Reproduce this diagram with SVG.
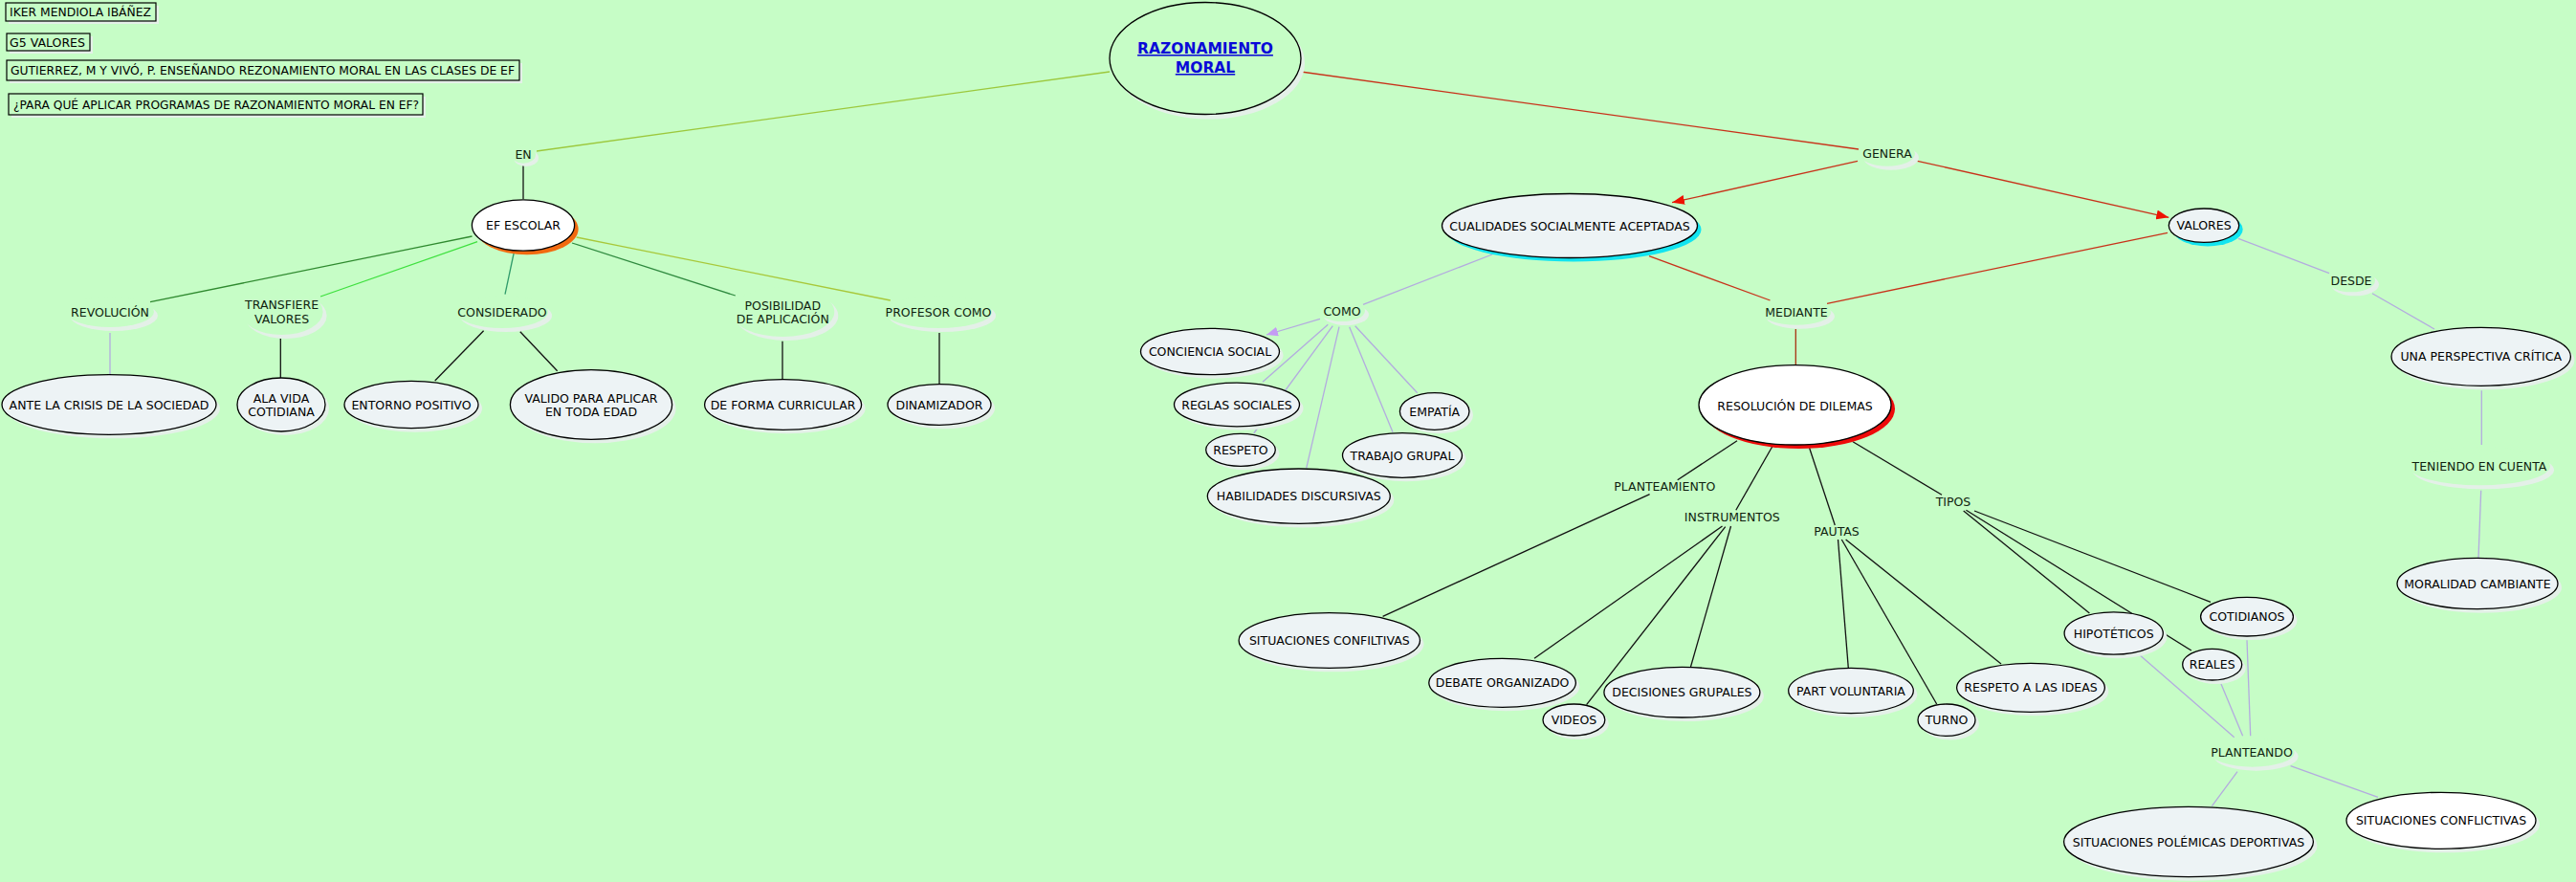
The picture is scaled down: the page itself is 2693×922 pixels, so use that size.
<svg xmlns="http://www.w3.org/2000/svg" width="2693" height="922" viewBox="0 0 2693 922">
<style>
text{font-family:"DejaVu Sans",Verdana,sans-serif;font-size:12.5px;fill:#000;text-anchor:middle}
.lt{fill:#0f1f0f}
.bt{text-anchor:start}
.n{fill:#edf3f5;stroke:#000;stroke-width:1.3}
.w{fill:#fff;stroke:#000;stroke-width:1.3}
.sh{fill:#e4f0e8}
.lb{fill:#c6fdc6}
.box{fill:#c6fdc6;stroke:#000;stroke-width:1.2}
.c line{stroke-width:1.3;fill:none}
.k{stroke:#111}
.r{stroke:#c8321a;stroke-width:1.6}
.v{stroke:#b3abdf}
.title{font-size:15.5px;font-weight:bold;fill:#0a0ad8;text-decoration:underline}
</style>
<defs>
<marker id="ar" viewBox="0 0 13 10" refX="13" refY="5" markerWidth="13" markerHeight="10" markerUnits="userSpaceOnUse" orient="auto"><path d="M0,0 L13,5 L0,10 z" fill="#ee1100"/></marker>
<marker id="al" viewBox="0 0 12 10" refX="12" refY="5" markerWidth="12" markerHeight="10" markerUnits="userSpaceOnUse" orient="auto"><path d="M0,0 L12,5 L0,10 z" fill="#c49cf4"/></marker>
</defs>
<rect width="2693" height="922" fill="#c6fdc6"/>

<g id="info">
<rect class="sh" x="9" y="6" width="157" height="19"/><rect class="box" x="6" y="3" width="157" height="19"/><text class="bt" x="10" y="17" textLength="148" lengthAdjust="spacingAndGlyphs">IKER MENDIOLA IBÁÑEZ</text>
<rect class="sh" x="10" y="38" width="87" height="18"/><rect class="box" x="7" y="35" width="87" height="18"/><text class="bt" x="10" y="48.5" textLength="79" lengthAdjust="spacingAndGlyphs">G5 VALORES</text>
<rect class="sh" x="10" y="66" width="536" height="21"/><rect class="box" x="7" y="63" width="536" height="21"/><text class="bt" x="11" y="78" textLength="527" lengthAdjust="spacingAndGlyphs">GUTIERREZ, M Y VIVÓ, P. ENSEÑANDO REZONAMIENTO MORAL EN LAS CLASES DE EF</text>
<rect class="sh" x="12" y="101" width="433" height="22"/><rect class="box" x="9" y="98" width="433" height="22"/><text class="bt" x="14" y="113.5" textLength="424" lengthAdjust="spacingAndGlyphs">¿PARA QUÉ APLICAR PROGRAMAS DE RAZONAMIENTO MORAL EN EF?</text>
</g>

<g id="connectors" class="c">
<line x1="1160" y1="75" x2="561" y2="158" stroke="#9cc83c"/>
<line class="k" x1="547" y1="173" x2="547" y2="208"/>
<line x1="493.5" y1="247" x2="157" y2="315.7" stroke="#2f8a2f"/>
<line x1="499" y1="252.7" x2="335" y2="310" stroke="#3ee03e"/>
<line x1="537.7" y1="262" x2="528" y2="307.7" stroke="#2f9a6a" stroke-width="1"/>
<line x1="598" y1="254" x2="768.8" y2="309" stroke="#2f8a3f"/>
<line x1="602.7" y1="248" x2="930.8" y2="314" stroke="#a8c83a"/>
<line class="v" x1="115" y1="348" x2="115" y2="391"/>
<line class="k" x1="293.3" y1="354" x2="293.3" y2="395"/>
<line class="k" x1="505.6" y1="345.7" x2="454.7" y2="398"/>
<line class="k" x1="543.8" y1="346.7" x2="582.6" y2="387.7"/>
<line class="k" x1="818" y1="356.7" x2="818" y2="396.7"/>
<line class="k" x1="982" y1="348" x2="982" y2="401.7"/>
<line class="r" x1="1360" y1="75" x2="1943" y2="156"/>
<line class="r" x1="1942" y1="168.3" x2="1748" y2="211.7" marker-end="url(#ar)"/>
<line class="r" x1="2004.5" y1="168.3" x2="2267.3" y2="227.3" marker-end="url(#ar)"/>
<line class="r" x1="1724" y1="267.7" x2="1850.5" y2="314"/>
<line class="r" x1="2266" y1="243.3" x2="1910" y2="317.3"/>
<line x1="1877.3" y1="344" x2="1877.3" y2="381.7" stroke="#a83010" stroke-width="1.4"/>
<line class="v" x1="1560" y1="266" x2="1425" y2="318.3"/>
<line class="v" x1="1380" y1="333.3" x2="1324" y2="350" marker-end="url(#al)"/>
<line class="v" x1="1388.3" y1="339.3" x2="1320" y2="399.3"/>
<line class="v" x1="1393.3" y1="340.7" x2="1310.7" y2="453"/>
<line class="v" x1="1400" y1="341.7" x2="1365.7" y2="489.3"/>
<line class="v" x1="1410.7" y1="341.7" x2="1456" y2="451.7"/>
<line class="v" x1="1416.7" y1="340.7" x2="1481.7" y2="410.7"/>
<line class="v" x1="2340" y1="249.3" x2="2435" y2="285.7"/>
<line class="v" x1="2480" y1="306.7" x2="2545" y2="344"/>
<line class="v" x1="2594.3" y1="408.3" x2="2594.3" y2="465"/>
<line class="v" x1="2593.7" y1="512.7" x2="2591" y2="583.3"/>
<line class="k" x1="1816" y1="460.7" x2="1753.7" y2="501.7"/>
<line class="k" x1="1724.6" y1="516.7" x2="1445.6" y2="644.3"/>
<line class="k" x1="1852.8" y1="466.7" x2="1814.8" y2="533.3"/>
<line class="k" x1="1800.5" y1="550" x2="1604" y2="688.3"/>
<line class="k" x1="1803.7" y1="550.7" x2="1658.6" y2="736.7"/>
<line class="k" x1="1809.5" y1="550" x2="1767.5" y2="697"/>
<line class="k" x1="1891.6" y1="468.3" x2="1918.3" y2="549"/>
<line class="k" x1="1921.5" y1="564" x2="1932.3" y2="698.3"/>
<line class="k" x1="1925.3" y1="564" x2="2024.7" y2="736"/>
<line class="k" x1="1929.6" y1="564" x2="2092" y2="694"/>
<line class="k" x1="1937" y1="461.7" x2="2030" y2="517.3"/>
<line class="k" x1="2052.7" y1="534" x2="2184.4" y2="641"/>
<line class="k" x1="2055.4" y1="533.3" x2="2290.9" y2="680"/>
<line class="k" x1="2064" y1="534" x2="2311" y2="629.3"/>
<line class="v" x1="2237.2" y1="685" x2="2335.7" y2="770.7"/>
<line class="v" x1="2322" y1="715" x2="2344.6" y2="769.3"/>
<line class="v" x1="2349" y1="669.3" x2="2352.7" y2="769.3"/>
<line class="v" x1="2339" y1="806.7" x2="2312.4" y2="842.7"/>
<line class="v" x1="2394.6" y1="800.7" x2="2486" y2="833.3"/>
</g>

<g id="razonamiento-moral">
<ellipse class="sh" cx="1264" cy="66" rx="100" ry="58.5"/>
<ellipse cx="1260" cy="61" rx="100" ry="58.5" fill="#c6fdc6" stroke="#000" stroke-width="1.3"/>
<text class="title" x="1260" y="56">RAZONAMIENTO</text>
<text class="title" x="1260" y="76">MORAL</text>
</g>

<g id="en"><ellipse class="sh" cx="550" cy="165" rx="13" ry="9"/><ellipse class="lb" cx="547" cy="161.7" rx="13" ry="9"/><text class="lt" x="547" y="166">EN</text></g>
<g id="ef-escolar"><ellipse cx="551" cy="239.5" rx="53.6" ry="26.7" fill="#f26a10"/><ellipse class="w" cx="547" cy="235.5" rx="53.6" ry="26.7"/><text x="547" y="240">EF ESCOLAR</text></g>

<g id="revolucion"><ellipse class="sh" cx="119" cy="330" rx="46" ry="16"/><ellipse class="lb" cx="115" cy="326" rx="46" ry="16"/><text class="lt" x="115" y="331">REVOLUCIÓN</text></g>
<g id="transfiere"><ellipse class="sh" cx="298.6" cy="330" rx="43" ry="24"/><ellipse class="lb" cx="294.6" cy="326" rx="43" ry="24"/><text class="lt" x="294.6" y="322.5">TRANSFIERE</text><text class="lt" x="294.6" y="337.5">VALORES</text></g>
<g id="considerado"><ellipse class="sh" cx="529" cy="330" rx="48" ry="17"/><ellipse class="lb" cx="525" cy="326" rx="48" ry="17"/><text class="lt" x="525" y="330.5">CONSIDERADO</text></g>
<g id="posibilidad"><ellipse class="sh" cx="822.3" cy="330" rx="54" ry="26"/><ellipse class="lb" cx="818.3" cy="326" rx="54" ry="26"/><text class="lt" x="818.3" y="323.5">POSIBILIDAD</text><text class="lt" x="818.3" y="338">DE APLICACIÓN</text></g>
<g id="profesor"><ellipse class="sh" cx="985" cy="330" rx="56" ry="17"/><ellipse class="lb" cx="981" cy="326" rx="56" ry="17"/><text class="lt" x="981" y="330.5">PROFESOR COMO</text></g>

<g id="ante"><ellipse class="sh" cx="118" cy="427" rx="112" ry="31.3"/><ellipse class="n" cx="114" cy="423" rx="112" ry="31.3"/><text x="114" y="427.5">ANTE LA CRISIS DE LA SOCIEDAD</text></g>
<g id="ala-vida"><ellipse class="sh" cx="298" cy="427" rx="46" ry="28"/><ellipse class="n" cx="294" cy="423" rx="46" ry="28"/><text x="294" y="420.5">ALA VIDA</text><text x="294" y="434.5">COTIDIANA</text></g>
<g id="entorno"><ellipse class="sh" cx="434" cy="427" rx="70" ry="24.7"/><ellipse class="n" cx="430" cy="423" rx="70" ry="24.7"/><text x="430" y="427.5">ENTORNO POSITIVO</text></g>
<g id="valido"><ellipse class="sh" cx="622" cy="427" rx="84.6" ry="36.3"/><ellipse class="n" cx="618" cy="423" rx="84.6" ry="36.3"/><text x="618" y="420.5">VALIDO PARA APLICAR</text><text x="618" y="434.5">EN TODA EDAD</text></g>
<g id="de-forma"><ellipse class="sh" cx="822.6" cy="427" rx="82" ry="26.3"/><ellipse class="n" cx="818.6" cy="423" rx="82" ry="26.3"/><text x="818.6" y="427.5">DE FORMA CURRICULAR</text></g>
<g id="dinamizador"><ellipse class="sh" cx="986" cy="427" rx="54" ry="21.3"/><ellipse class="n" cx="982" cy="423" rx="54" ry="21.3"/><text x="982" y="427.5">DINAMIZADOR</text></g>

<g id="genera"><ellipse class="sh" cx="1977" cy="164.7" rx="29" ry="13"/><ellipse class="lb" cx="1973" cy="160.7" rx="29" ry="13"/><text class="lt" x="1973" y="165">GENERA</text></g>
<g id="cualidades"><ellipse cx="1645" cy="240" rx="133.5" ry="33.5" fill="#12e4f0"/><ellipse class="n" cx="1641" cy="236" rx="133.5" ry="33.5"/><text x="1641" y="240.5">CUALIDADES SOCIALMENTE ACEPTADAS</text></g>
<g id="valores"><ellipse cx="2308" cy="239.7" rx="36.7" ry="17.7" fill="#12e4f0"/><ellipse class="n" cx="2304" cy="235.7" rx="36.7" ry="17.7"/><text x="2304" y="240">VALORES</text></g>
<g id="mediante"><ellipse class="sh" cx="1882" cy="330.7" rx="36" ry="13"/><ellipse class="lb" cx="1878" cy="326.7" rx="36" ry="13"/><text class="lt" x="1878" y="331">MEDIANTE</text></g>
<g id="resolucion"><ellipse cx="1880.5" cy="427.3" rx="100.5" ry="41.7" fill="#ee0a0a"/><ellipse class="w" cx="1876.5" cy="423.3" rx="100.5" ry="41.7"/><text x="1876.5" y="428.5">RESOLUCIÓN DE DILEMAS</text></g>

<g id="como"><ellipse class="sh" cx="1407" cy="329" rx="24" ry="11"/><ellipse class="lb" cx="1403" cy="325" rx="24" ry="11"/><text class="lt" x="1403" y="329.5">COMO</text></g>
<g id="conciencia"><ellipse class="sh" cx="1269" cy="371.5" rx="72.5" ry="24.2"/><ellipse class="n" cx="1265" cy="367.5" rx="72.5" ry="24.2"/><text x="1265" y="372">CONCIENCIA SOCIAL</text></g>
<g id="reglas"><ellipse class="sh" cx="1297" cy="427" rx="65.5" ry="22.8"/><ellipse class="n" cx="1293" cy="423" rx="65.5" ry="22.8"/><text x="1293" y="427.5">REGLAS SOCIALES</text></g>
<g id="respeto"><ellipse class="sh" cx="1301" cy="474.3" rx="36.3" ry="17"/><ellipse class="n" cx="1297" cy="470.3" rx="36.3" ry="17"/><text x="1297" y="474.8">RESPETO</text></g>
<g id="habilidades"><ellipse class="sh" cx="1361.8" cy="522.7" rx="95.5" ry="28.7"/><ellipse class="n" cx="1357.8" cy="518.7" rx="95.5" ry="28.7"/><text x="1357.8" y="523.2">HABILIDADES DISCURSIVAS</text></g>
<g id="trabajo"><ellipse class="sh" cx="1470" cy="480" rx="62.5" ry="23.3"/><ellipse class="n" cx="1466" cy="476" rx="62.5" ry="23.3"/><text x="1466" y="480.5">TRABAJO GRUPAL</text></g>
<g id="empatia"><ellipse class="sh" cx="1503.7" cy="434" rx="36.3" ry="19.3"/><ellipse class="n" cx="1499.7" cy="430" rx="36.3" ry="19.3"/><text x="1499.7" y="434.5">EMPATÍA</text></g>

<g id="planteamiento"><text class="lt" x="1740.3" y="512.8">PLANTEAMIENTO</text></g>
<g id="instrumentos"><text class="lt" x="1810.8" y="545.2">INSTRUMENTOS</text></g>
<g id="pautas"><text class="lt" x="1920" y="560.2">PAUTAS</text></g>
<g id="tipos"><text class="lt" x="2042" y="528.8">TIPOS</text></g>

<g id="sit-confiltivas"><ellipse class="sh" cx="1393.8" cy="673.5" rx="94.7" ry="28.8"/><ellipse class="n" cx="1389.8" cy="669.5" rx="94.7" ry="28.8"/><text x="1389.8" y="674">SITUACIONES CONFILTIVAS</text></g>
<g id="debate"><ellipse class="sh" cx="1574.6" cy="717.8" rx="76.8" ry="25.5"/><ellipse class="n" cx="1570.6" cy="713.8" rx="76.8" ry="25.5"/><text x="1570.6" y="718.3">DEBATE ORGANIZADO</text></g>
<g id="videos"><ellipse class="sh" cx="1649.4" cy="756.5" rx="32.4" ry="16.5"/><ellipse class="n" cx="1645.4" cy="752.5" rx="32.4" ry="16.5"/><text x="1645.4" y="757">VIDEOS</text></g>
<g id="decisiones"><ellipse class="sh" cx="1762.4" cy="727.7" rx="81.5" ry="26.3"/><ellipse class="n" cx="1758.4" cy="723.7" rx="81.5" ry="26.3"/><text x="1758.4" y="728.2">DECISIONES GRUPALES</text></g>
<g id="part"><ellipse class="sh" cx="1939" cy="726" rx="65.3" ry="23.7"/><ellipse class="n" cx="1935" cy="722" rx="65.3" ry="23.7"/><text x="1935" y="726.5">PART VOLUNTARIA</text></g>
<g id="turno"><ellipse class="sh" cx="2039" cy="756.7" rx="30" ry="16.7"/><ellipse class="n" cx="2035" cy="752.7" rx="30" ry="16.7"/><text x="2035" y="757.2">TURNO</text></g>
<g id="respeto-ideas"><ellipse class="sh" cx="2127" cy="722.8" rx="77.4" ry="25.5"/><ellipse class="n" cx="2123" cy="718.8" rx="77.4" ry="25.5"/><text x="2123" y="723.3">RESPETO A LAS IDEAS</text></g>
<g id="hipoteticos"><ellipse class="sh" cx="2213.7" cy="666" rx="51.6" ry="22.2"/><ellipse class="n" cx="2209.7" cy="662" rx="51.6" ry="22.2"/><text x="2209.7" y="666.5">HIPOTÉTICOS</text></g>
<g id="reales"><ellipse class="sh" cx="2316.7" cy="698.7" rx="31" ry="16.3"/><ellipse class="n" cx="2312.7" cy="694.7" rx="31" ry="16.3"/><text x="2312.7" y="699.2">REALES</text></g>
<g id="cotidianos"><ellipse class="sh" cx="2353" cy="648.7" rx="48.4" ry="20.3"/><ellipse class="n" cx="2349" cy="644.7" rx="48.4" ry="20.3"/><text x="2349" y="649.2">COTIDIANOS</text></g>
<g id="planteando"><ellipse class="sh" cx="2358.7" cy="790.7" rx="44" ry="15"/><ellipse class="lb" cx="2354.7" cy="786.7" rx="44" ry="15"/><text class="lt" x="2354" y="791.2">PLANTEANDO</text></g>
<g id="sit-polemicas"><ellipse class="sh" cx="2292" cy="884" rx="130.4" ry="36.7"/><ellipse class="n" cx="2288" cy="880" rx="130.4" ry="36.7"/><text x="2288" y="884.5">SITUACIONES POLÉMICAS DEPORTIVAS</text></g>
<g id="sit-conflictivas"><ellipse class="sh" cx="2556" cy="861.8" rx="99" ry="29.5"/><ellipse class="w" cx="2552" cy="857.8" rx="99" ry="29.5"/><text x="2552" y="862.3">SITUACIONES CONFLICTIVAS</text></g>

<g id="desde"><ellipse class="sh" cx="2462" cy="297.3" rx="25" ry="12"/><ellipse class="lb" cx="2458" cy="293.3" rx="25" ry="12"/><text class="lt" x="2458" y="297.8">DESDE</text></g>
<g id="perspectiva"><ellipse class="sh" cx="2597.7" cy="376.8" rx="93.7" ry="30.5"/><ellipse class="n" cx="2593.7" cy="372.8" rx="93.7" ry="30.5"/><text x="2593.7" y="377.3">UNA PERSPECTIVA CRÍTICA</text></g>
<g id="teniendo"><ellipse class="sh" cx="2596" cy="491.3" rx="74" ry="20"/><ellipse class="lb" cx="2592" cy="487.3" rx="74" ry="20"/><text class="lt" x="2592" y="491.8">TENIENDO EN CUENTA</text></g>
<g id="moralidad"><ellipse class="sh" cx="2594" cy="614" rx="84" ry="26.7"/><ellipse class="n" cx="2590" cy="610" rx="84" ry="26.7"/><text x="2590" y="614.5">MORALIDAD CAMBIANTE</text></g>
</svg>
